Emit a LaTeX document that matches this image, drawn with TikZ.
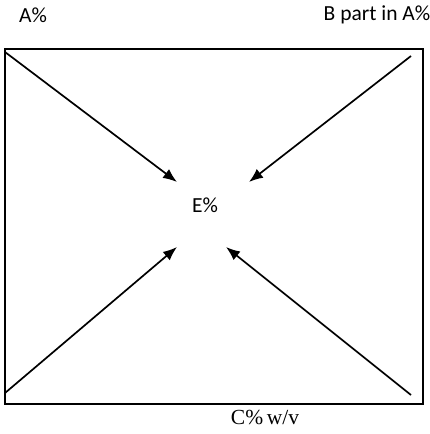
\documentclass[tikz,border=0pt]{standalone}
\usepackage{fontspec}
\setmainfont{Carlito}
\newfontfamily\timesfont{Liberation Serif}
\usetikzlibrary{arrows.meta}
\begin{document}
\begin{tikzpicture}[x=1pt,y=-1pt,
  frame/.style={draw=black,line width=1.7pt},
  arr/.style={draw=black,line width=1.7pt,-{Latex[length=14pt,width=11pt]}},
  lbl/.style={inner sep=0pt,font=\fontsize{21.5}{24}\selectfont},
  lblser/.style={inner sep=0pt,font=\timesfont\fontsize{21.5}{24}\selectfont}]
\useasboundingbox (0,0) rectangle (430,434);
\node[frame,minimum width=418pt,minimum height=355pt,inner sep=0pt,anchor=north west] (box) at (4,48) {};
\node[lbl] (a) at (33,15) {A\%};
\node[lbl] (b) at (377,15) {B part in A\%};
\node[lbl] (e) at (205,205) {E\%};
\node[lblser] (c) at (265,417) {C\%\,w/v};
\coordinate (s1) at (5,52);
\coordinate (s2) at (411,56);
\coordinate (s3) at (5,393);
\coordinate (s4) at (411,395);
\coordinate (t1) at (177,182);
\coordinate (t2) at (249,182);
\coordinate (t3) at (177,247);
\coordinate (t4) at (226,247);
\draw[arr] (s1) -- (t1);
\draw[arr] (s2) -- (t2);
\draw[arr] (s3) -- (t3);
\draw[arr] (s4) -- (t4);
\end{tikzpicture}
\end{document}
